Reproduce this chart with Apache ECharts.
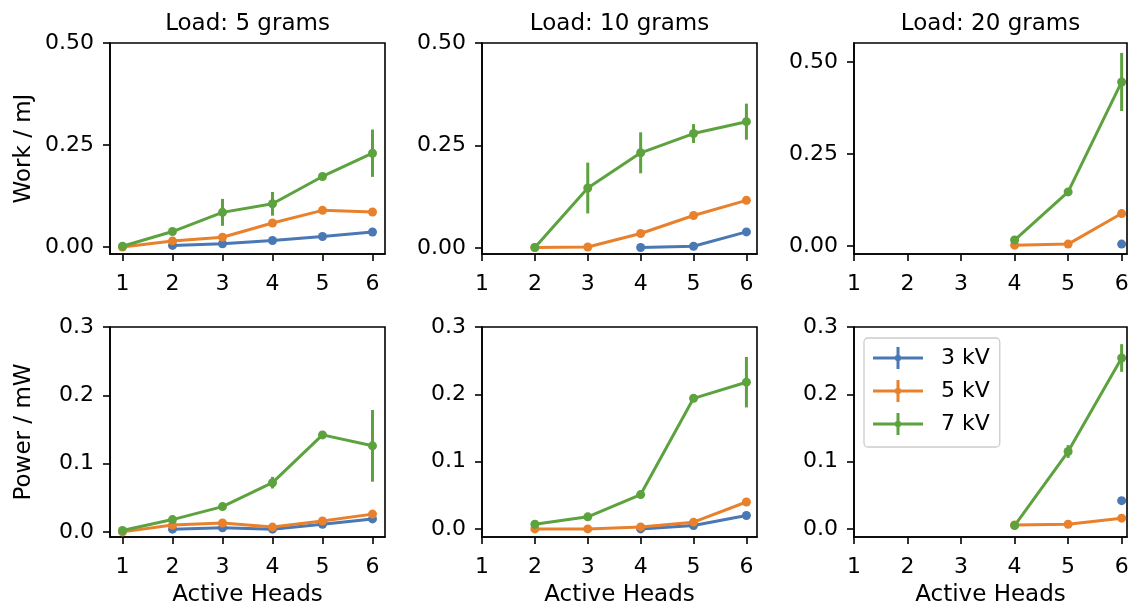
<!DOCTYPE html>
<html>
<head>
<meta charset="utf-8">
<script src="https://cdn.jsdelivr.net/npm/echarts@6/dist/echarts.min.js"></script>
<style>
  html, body { margin: 0; padding: 0; background: #fff; }
  #chart { width: 1129px; height: 605px; }
</style>
</head>
<body>
<div id="chart"></div>
<script>
// Number of active heads (x positions shared by every panel)
const heads = [1, 2, 3, 4, 5, 6];
const voltages = ['3 kV', '5 kV', '7 kV'];
const loads = ['Load: 5 grams', 'Load: 10 grams', 'Load: 20 grams'];
const workTicks = [0, 0.25, 0.5];
const powerTicks = [0, 0.1, 0.2, 0.3];

// Work (mJ), one array per load and voltage; null = not measured
const work5_3kV  = [null, 0.004, 0.008, 0.016, 0.026, 0.037];
const work5_5kV  = [0.000, 0.015, 0.024, 0.059, 0.090, 0.086];
const work5_7kV  = [0.002, 0.038, 0.085, 0.106, 0.173, 0.230];
const work5_7kV_err = [0, 0, 0.033, 0.029, 0, 0.058];

const work10_3kV = [null, null, null, 0.001, 0.004, 0.039];
const work10_5kV = [null, 0.001, 0.002, 0.035, 0.079, 0.116];
const work10_7kV = [null, 0.001, 0.146, 0.232, 0.279, 0.308];
const work10_7kV_err = [0, 0, 0.062, 0.050, 0.023, 0.044];

const work20_3kV = [null, null, null, null, null, 0.005];
const work20_5kV = [null, null, null, 0.002, 0.005, 0.088];
const work20_7kV = [null, null, null, 0.016, 0.147, 0.446];
const work20_7kV_err = [0, 0, 0, 0, 0, 0.079];

// Power (mW)
const power5_3kV  = [null, 0.004, 0.006, 0.004, 0.011, 0.019];
const power5_5kV  = [0.000, 0.010, 0.013, 0.007, 0.016, 0.026];
const power5_7kV  = [0.002, 0.018, 0.037, 0.072, 0.142, 0.126];
const power5_7kV_err = [0, 0, 0, 0.0085, 0, 0.0525];

const power10_3kV = [null, null, null, 0.000, 0.005, 0.020];
const power10_5kV = [null, 0.000, 0.000, 0.003, 0.010, 0.040];
const power10_7kV = [null, 0.007, 0.018, 0.051, 0.194, 0.218];
const power10_7kV_err = [0, 0, 0, 0, 0, 0.0375];

const power20_3kV = [null, null, null, null, null, 0.042];
const power20_5kV = [null, null, null, 0.006, 0.007, 0.016];
const power20_7kV = [null, null, null, 0.005, 0.115, 0.254];
const power20_7kV_err = [0, 0, 0, 0, 0.0095, 0.0205];

const colors = ['#4a78b4', '#e8802c', '#5ca23e'];

const panels = [
  { series: [work5_3kV, work5_5kV, work5_7kV], err: work5_7kV_err, xr: [0.75, 6.25], yr: [-0.017, 0.5], kind: 'work' },
  { series: [work10_3kV, work10_5kV, work10_7kV], err: work10_7kV_err, xr: [1, 6.2], yr: [-0.015, 0.5], kind: 'work' },
  { series: [work20_3kV, work20_5kV, work20_7kV], err: work20_7kV_err, xr: [1, 6.1], yr: [-0.022, 0.552], kind: 'work' },
  { series: [power5_3kV, power5_5kV, power5_7kV], err: power5_7kV_err, xr: [0.75, 6.25], yr: [-0.0075, 0.3], kind: 'power' },
  { series: [power10_3kV, power10_5kV, power10_7kV], err: power10_7kV_err, xr: [1, 6.2], yr: [-0.012, 0.3], kind: 'power' },
  { series: [power20_3kV, power20_5kV, power20_7kV], err: power20_7kV_err, xr: [1, 6.1], yr: [-0.012, 0.3], kind: 'power' }
];

// Plot-area geometry of the 2 x 3 panel layout
const colLeft = [110, 482, 854];
const colWidth = [275, 275, 273];
const rowTop = [43, 327];
const rowHeight = [211, 210];

const FONT = 'DejaVu Sans';
const grids = [], xAxes = [], yAxes = [], series = [];

panels.forEach((p, i) => {
  const row = Math.floor(i / 3), col = i % 3;
  grids.push({
    left: colLeft[col], top: rowTop[row], width: colWidth[col], height: rowHeight[row],
    outerBoundsMode: 'none', containLabel: false,
    show: true, borderColor: '#000', borderWidth: 1.6, backgroundColor: 'transparent'
  });
  xAxes.push({
    type: 'value', gridIndex: i, min: p.xr[0], max: p.xr[1],
    axisLine: { show: true, onZero: false, lineStyle: { color: '#000', width: 1.6 } },
    axisTick: { show: true, customValues: heads, length: 7, lineStyle: { color: '#000', width: 1.6 } },
    axisLabel: { customValues: heads, margin: 19, color: '#000', fontFamily: FONT, fontSize: 22 },
    splitLine: { show: false },
    name: row === 1 ? 'Active Heads' : '', nameLocation: 'middle', nameGap: 47,
    nameTextStyle: { color: '#000', fontFamily: FONT, fontSize: 23 }
  });
  const ticks = p.kind === 'work' ? workTicks : powerTicks;
  const digits = p.kind === 'work' ? 2 : 1;
  yAxes.push({
    type: 'value', gridIndex: i, min: p.yr[0], max: p.yr[1],
    axisLine: { show: true, onZero: false, lineStyle: { color: '#000', width: 1.6 } },
    axisTick: { show: true, customValues: ticks, length: 7, lineStyle: { color: '#000', width: 1.6 } },
    axisLabel: { customValues: ticks, margin: 16, color: '#000', fontFamily: FONT, fontSize: 22,
                 formatter: v => v.toFixed(digits) },
    splitLine: { show: false },
    name: col === 0 ? (p.kind === 'work' ? 'Work / mJ' : 'Power / mW') : '',
    nameLocation: 'middle', nameGap: 74,
    nameTextStyle: { color: '#000', fontFamily: FONT, fontSize: 23 }
  });

  p.series.forEach((vals, k) => {
    const pts = [];
    vals.forEach((v, j) => { if (v !== null) pts.push([heads[j], v]); });
    series.push({
      type: 'line', name: voltages[k], xAxisIndex: i, yAxisIndex: i,
      data: pts, symbol: 'circle', symbolSize: 9, showSymbol: true,
      lineStyle: { color: colors[k], width: 3 },
      itemStyle: { color: colors[k] },
      z: 2 + k, silent: true
    });
    if (k === 2) {
      // vertical error bars (no caps) around the 7 kV points
      const bars = [];
      vals.forEach((v, j) => { if (v !== null && p.err[j] > 0) bars.push([heads[j], v, p.err[j]]); });
      series.push({
        type: 'custom', name: voltages[k], xAxisIndex: i, yAxisIndex: i,
        data: bars, encode: { x: 0, y: 1 }, z: 2 + k, silent: true,
        itemStyle: { color: colors[k] },
        renderItem: (params, api) => {
          const x = api.value(0), y = api.value(1), e = api.value(2);
          const a = api.coord([x, y - e]), b = api.coord([x, y + e]);
          return { type: 'line', shape: { x1: a[0], y1: a[1], x2: b[0], y2: b[1] },
                   style: { stroke: colors[k], lineWidth: 3 } };
        }
      });
    }
  });
});

// Legend marker: horizontal line, vertical error bar and centre dot
const legendIcon = 'path://M0,9.5 L50,9.5 L50,12.5 L0,12.5 Z ' +
  'M23.5,0 L26.5,0 L26.5,22 L23.5,22 Z ' +
  'M28.5,11 L27.47,13.47 L25,14.5 L22.53,13.47 L21.5,11 L22.53,8.53 L25,7.5 L27.47,8.53 Z';

const titles = loads.map((t, c) => ({
  text: t, left: colLeft[c] + colWidth[c] / 2, top: 13, textAlign: 'center', padding: 0,
  textStyle: { color: '#000', fontFamily: FONT, fontSize: 23, fontWeight: 'normal' }
}));

const chart = echarts.init(document.getElementById('chart'), null, { renderer: 'canvas' });
chart.setOption({
  animation: false,
  backgroundColor: '#fff',
  title: titles,
  grid: grids,
  xAxis: xAxes,
  yAxis: yAxes,
  legend: {
    data: voltages.map((v, k) => ({ name: v, icon: legendIcon, itemStyle: { color: colors[k], borderWidth: 0 } })),
    orient: 'vertical', left: 864, top: 338,
    itemWidth: 50, itemHeight: 22, itemGap: 11,
    padding: [9, 10, 12, 9],
    backgroundColor: 'rgba(255,255,255,0.8)', borderColor: '#cccccc', borderWidth: 1.3, borderRadius: 4,
    textStyle: { color: '#000', fontFamily: FONT, fontSize: 22, padding: [0, 0, 0, 13] },
    selectedMode: false
  },
  series: series
});
</script>
</body>
</html>
